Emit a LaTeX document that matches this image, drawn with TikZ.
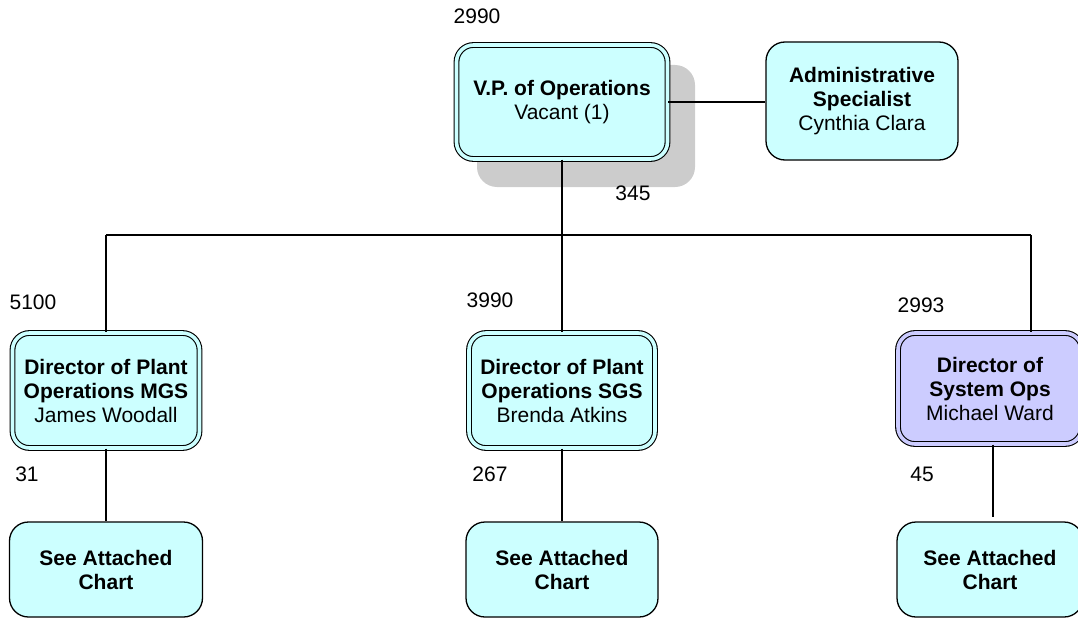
\documentclass[tikz,border=0pt]{standalone}
\usepackage{fontspec}
\setmainfont{Liberation Sans}
\definecolor{boxcyan}{HTML}{CCFFFF}
\definecolor{boxlav}{HTML}{CCCCFF}
\definecolor{shadowgray}{HTML}{CCCCCC}
\begin{document}
\begin{tikzpicture}[x=1pt,y=-1pt,
  every node/.style={font=\fontsize{21}{24}\selectfont},
  dbox/.style={draw=black, line width=1.1pt, double=boxcyan, double distance=3.6pt,
    fill=boxcyan, rounded corners=17pt, align=center, inner sep=0pt},
  sbox/.style={draw=black, line width=1.3pt, fill=boxcyan, rounded corners=19pt,
    align=center, inner sep=0pt},
  conn/.style={line width=1.5pt},
  num/.style={inner sep=0pt}]
\useasboundingbox (0,0) rectangle (1078,618);
\clip (0,0) rectangle (1078,618);
% shadow
\fill[shadowgray, rounded corners=20pt] (477,65) rectangle (695,187);
% nodes
\node[dbox, minimum width=211pt, minimum height=114pt] (vp) at (562,102)
  {\textbf{V.P. of Operations}\\Vacant (1)};
\node[sbox, minimum width=192pt, minimum height=118pt] (adm) at (862,101)
  {\textbf{Administrative}\\\textbf{Specialist}\\Cynthia Clara};
\node[dbox, minimum width=187pt, minimum height=115pt] (d1) at (106,390.5)
  {\textbf{Director of Plant}\\\textbf{Operations MGS}\\James Woodall};
\node[dbox, minimum width=186pt, minimum height=115pt] (d2) at (562,390.5)
  {\textbf{Director of Plant}\\\textbf{Operations SGS}\\Brenda Atkins};
\node[dbox, double=boxlav, fill=boxlav, minimum width=184pt, minimum height=111pt] (d3) at (990,388.5)
  {\textbf{Director of}\\\textbf{System Ops}\\Michael Ward};
\node[sbox, minimum width=193pt, minimum height=95pt] (c1) at (106,569.5)
  {\textbf{See Attached}\\\textbf{Chart}};
\node[sbox, minimum width=192pt, minimum height=95pt] (c2) at (562,569.5)
  {\textbf{See Attached}\\\textbf{Chart}};
\node[sbox, minimum width=186pt, minimum height=95pt] (c3) at (990,569.5)
  {\textbf{See Attached}\\\textbf{Chart}};
% numbers
\node[num] (n1) at (477,16) {2990};
\node[num] (n2) at (633,193) {345};
\node[num] (n3) at (33,302) {5100};
\node[num] (n4) at (27,474) {31};
\node[num] (n5) at (490,300) {3990};
\node[num] (n6) at (490,474) {267};
\node[num] (n7) at (921,305) {2993};
\node[num] (n8) at (922,474) {45};
% connectors
\coordinate (hl) at (106,235);
\coordinate (hr) at (1031,235);
\coordinate (e3) at (993,517);
\draw[conn] (vp.east) -- (vp.east -| adm.west);
\draw[conn] (vp.south) -- (vp.south |- hl);
\draw[conn] (hl) -- (hr);
\draw[conn] (hl) -- (hl |- d1.north);
\draw[conn] (vp.south |- hl) -- (d2.north);
\draw[conn] (hr) -- (hr |- d3.north);
\draw[conn] (d1.south) -- (c1.north);
\draw[conn] (d2.south) -- (c2.north);
\draw[conn] (e3 |- d3.south) -- (e3);
\end{tikzpicture}
\end{document}
